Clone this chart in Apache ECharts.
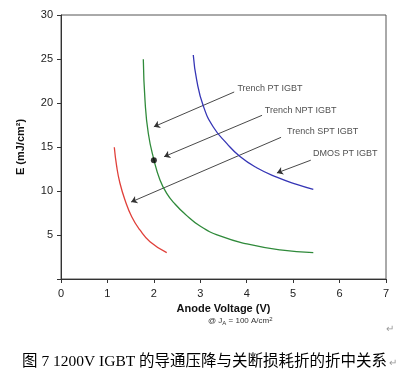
<!DOCTYPE html>
<html><head><meta charset="utf-8">
<script src="https://cdn.jsdelivr.net/npm/echarts@6/dist/echarts.min.js"></script>
<style>html,body{margin:0;padding:0;background:#fff}#c{width:404px;height:384px}</style>
</head><body><div id="c"></div>
<script>
const xTicks = [0,1,2,3,4,5,6,7];
const yTicks = [5,10,15,20,25,30];
const redCurve = [[1.148,14.97],[1.2,12.76],[1.27,10.88],[1.378,8.98],[1.523,7.08],[1.70,5.57],[1.917,4.24],[2.277,2.99]];
const greenCurve = [[1.773,24.97],[1.809,20.34],[1.88,16.56],[2.003,13.52],[2.132,11.25],[2.277,9.74],[2.455,8.52],[2.67,7.39],[2.994,6.02],[3.424,4.89],[4.006,3.98],[4.717,3.30],[5.434,2.99]];
const blueCurve = [[2.849,25.45],[2.923,22.59],[3.065,19.66],[3.28,17.27],[3.569,15.41],[3.855,13.91],[4.215,12.64],[4.646,11.57],[5.076,10.75],[5.434,10.18]];
const markPoint = [[2.0,13.5]];
const annoNames = ['Trench PT IGBT','Trench NPT IGBT','Trench SPT IGBT','DMOS PT IGBT'];
const annoFrom = [[3.73,21.25],[4.33,18.6],[4.74,16.1],[5.38,13.5]];
const annoTo = [[2.0,17.3],[2.22,13.9],[1.51,8.75],[4.65,12.05]];
const annoLabelAt = [[3.8,21.7],[4.39,19.2],[4.87,16.8],[5.43,14.3]];

const chart = echarts.init(document.getElementById('c'));
const font = 'Liberation Sans, Arial, sans-serif';
chart.setOption({
  animation:false,
  grid:{left:61,right:18,top:15,bottom:105,show:true,borderColor:'#555',borderWidth:1},
  xAxis:{type:'value',min:0,max:7,interval:1,
    axisLine:{onZero:false,lineStyle:{color:'#333',width:1}},
    axisTick:{show:true,length:4,lineStyle:{color:'#333'}},
    splitLine:{show:false},
    axisLabel:{color:'#222',fontSize:11,fontFamily:font,margin:9},
    name:'Anode Voltage (V)',nameLocation:'middle',nameGap:24,
    nameTextStyle:{fontWeight:'bold',fontSize:11,color:'#111',fontFamily:font}},
  yAxis:{type:'value',min:0,max:30,interval:5,
    axisLine:{lineStyle:{color:'#333',width:1}},
    axisTick:{show:true,length:4,lineStyle:{color:'#333'}},
    splitLine:{show:false},
    axisLabel:{color:'#222',fontSize:11,fontFamily:font,margin:8,
      formatter:v=> yTicks.includes(v)?String(v):''},
    name:'E (mJ/cm²)',nameLocation:'middle',nameGap:35,
    nameTextStyle:{fontWeight:'bold',fontSize:11,color:'#111',fontFamily:font}},
  series:[
    {type:'line',data:redCurve,smooth:0.5,symbol:'none',lineStyle:{color:'#e0403a',width:1.3}},
    {type:'line',data:greenCurve,smooth:0.5,symbol:'none',lineStyle:{color:'#2f8a3a',width:1.3}},
    {type:'line',data:blueCurve,smooth:0.5,symbol:'none',lineStyle:{color:'#3535b5',width:1.3}},
    {type:'scatter',data:markPoint,symbolSize:6,itemStyle:{color:'#000'},z:5},
    {type:'lines',coordinateSystem:'cartesian2d',
      data:annoFrom.map((f,i)=>({coords:[f,annoTo[i]]})),
      symbol:['none','arrow'],symbolSize:6,
      lineStyle:{color:'#333',width:0.9,opacity:1}},
    {type:'scatter',symbolSize:0,data:annoLabelAt.map((p,i)=>({value:p,name:annoNames[i]})),
      label:{show:true,position:'right',distance:0,formatter:p=>p.name,
        fontSize:9,color:'#222',fontFamily:font}}
  ],
  graphic:[
    {type:'text',left:208,top:316,style:{
      text:'{a|@ J}{s|A}{a| = 100 A/cm}{p|2}',
      rich:{a:{fontSize:8,fontFamily:font,fill:'#333'},s:{fontSize:6,fontFamily:font,fill:'#333',padding:[4,0,0,0]},p:{fontSize:6,fontFamily:font,fill:'#333',padding:[0,0,4,0]}}}},
    {type:'text',left:386,top:324,style:{text:'↵',fontSize:10,fill:'#999',fontFamily:font}},
    {type:'text',left:22,top:354,style:{text:'图 7 1200V IGBT 的导通压降与关断损耗折的折中关系',
      fontSize:15.5,fill:'#000',fontFamily:'Liberation Serif, Noto Sans CJK SC, serif'}},
    {type:'text',left:389,top:358,style:{text:'↵',fontSize:10,fill:'#999',fontFamily:font}}
  ]
});
</script></body></html>
